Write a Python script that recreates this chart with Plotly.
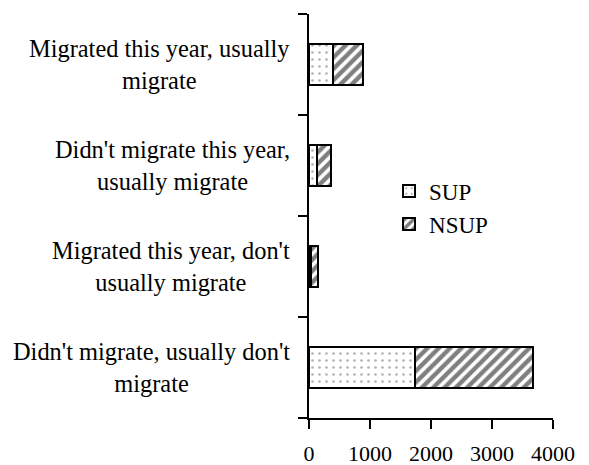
import plotly.graph_objects as go

categories = [
    "Didn't migrate, usually don't<br>migrate",
    "Migrated this year, don't<br>usually migrate",
    "Didn't migrate this year,<br>usually migrate",
    "Migrated this year, usually<br>migrate",
]
sup_values = [1730, 30, 130, 390]
nsup_values = [1940, 120, 230, 495]
x_ticks = [0, 1000, 2000, 3000, 4000]

FONT = "Liberation Serif, Times New Roman, serif"

fig = go.Figure()
fig.add_trace(go.Bar(
    name="SUP", y=categories, x=sup_values, orientation="h",
    marker=dict(color="white", line=dict(color="black", width=2),
                pattern=dict(shape=".", fgcolor="#666666", bgcolor="white",
                             size=7, solidity=0.12)),
))
fig.add_trace(go.Bar(
    name="NSUP", y=categories, x=nsup_values, orientation="h",
    marker=dict(color="white", line=dict(color="black", width=2),
                pattern=dict(shape="/", fgcolor="black", bgcolor="white",
                             size=8, solidity=0.55)),
))

for c in categories:
    fig.add_annotation(
        x=0, xref="paper", y=c, yref="y", text=c, showarrow=False,
        xanchor="right", yanchor="middle", align="center", xshift=-17,
        font=dict(family=FONT, size=24.4, color="black"),
    )

# page body has an 8px default margin, so the figure is shrunk by 8px
fig.update_layout(
    width=581, height=457,
    margin=dict(l=301, r=36, t=6, b=47, autoexpand=False),
    barmode="stack", bargap=0.6,
    plot_bgcolor="white", paper_bgcolor="white",
    font=dict(family=FONT, size=23, color="black"),
    showlegend=True,
    legend=dict(x=0.328, y=0.615, xanchor="left", yanchor="top",
                traceorder="normal", bgcolor="rgba(0,0,0,0)",
                font=dict(family=FONT, size=23, color="black"),
                itemwidth=30),
)
fig.update_xaxes(
    range=[0, 4000], tickvals=x_ticks, ticks="outside", ticklen=9,
    tickwidth=2, tickcolor="black", showline=True, linecolor="black",
    linewidth=2, showgrid=False, zeroline=False, ticklabelstandoff=6,
    automargin=False,
    tickfont=dict(family=FONT, size=22, color="black"),
)
fig.update_yaxes(
    categoryorder="array", categoryarray=categories, range=[-0.5, 3.5],
    ticks="outside", tickson="boundaries", ticklen=9, tickwidth=2,
    tickcolor="black", showline=True, linecolor="black", linewidth=2,
    showgrid=False, zeroline=False, showticklabels=False, automargin=False,
)

fig.write_html("out.html")
